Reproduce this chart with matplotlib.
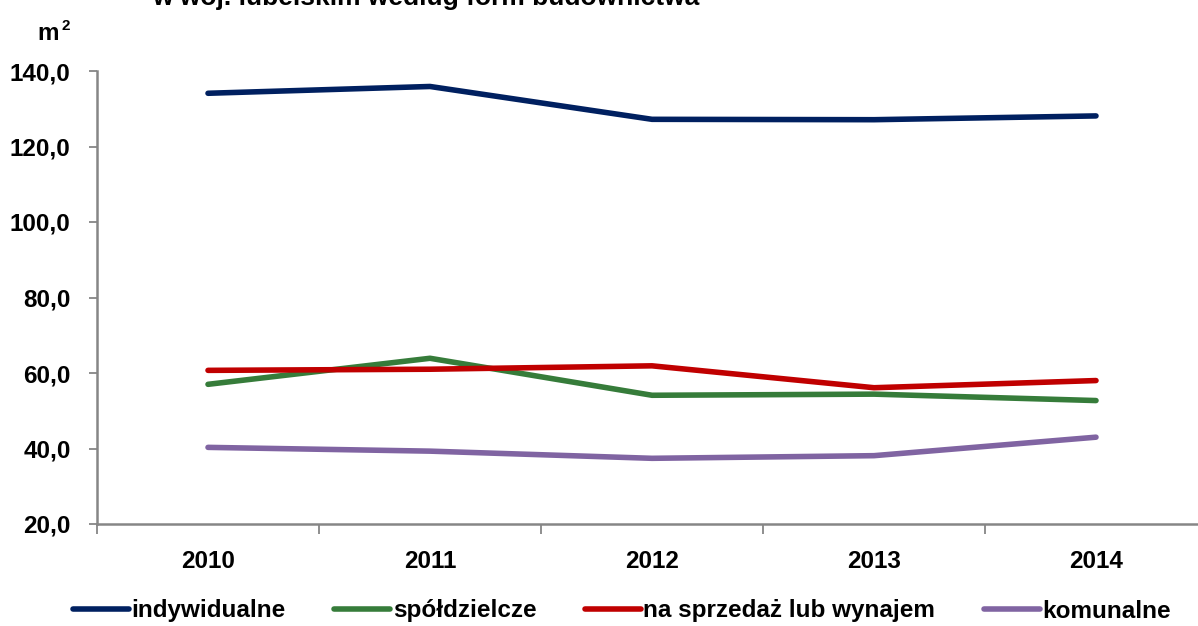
import numpy as np
import matplotlib.pyplot as plt
from matplotlib.ticker import FixedLocator, FuncFormatter

years = ["2010", "2011", "2012", "2013", "2014"]
indywidualne = [134.1, 135.9, 127.2, 127.1, 128.1]
spoldzielcze = [57.0, 63.9, 54.1, 54.4, 52.7]
na_sprzedaz = [60.7, 61.0, 61.9, 56.1, 58.0]
komunalne = [40.3, 39.3, 37.4, 38.1, 43.0]

series = [
    ("indywidualne", indywidualne, "#002060"),
    ("spółdzielcze", spoldzielcze, "#367C3A"),
    ("na sprzedaż lub wynajem", na_sprzedaz, "#C00000"),
    ("komunalne", komunalne, "#8064A2"),
]

plt.rcParams["font.family"] = ["Liberation Sans", "DejaVu Sans"]
plt.rcParams["font.weight"] = "bold"

fig = plt.figure(figsize=(11.98, 6.26), dpi=100)
ax = fig.add_axes([97 / 1198, 102 / 626, 1110 / 1198, 453 / 626])

x = np.arange(len(years))
for name, vals, col in series:
    ax.plot(x, vals, color=col, linewidth=4.0, solid_capstyle="round", label=name)

ax.set_xlim(-0.5, len(years) - 0.5)
ax.set_ylim(20, 140)
ax.set_yticks(np.arange(20, 141, 20))
ax.yaxis.set_major_formatter(FuncFormatter(lambda v, p: f"{v:.1f}".replace(".", ",")))

ax.set_xticks(x)
ax.set_xticklabels(years)
ax.xaxis.set_minor_locator(FixedLocator(np.arange(-0.5, len(years), 1.0)))
ax.tick_params(axis="x", which="major", length=0, pad=19, labelsize=17.5)
ax.tick_params(axis="x", which="minor", length=7, width=1.3, color="#868686", direction="out")
ax.tick_params(axis="y", length=6, width=1.3, color="#868686", pad=13, labelsize=17.5)

for s in ["top", "right"]:
    ax.spines[s].set_visible(False)
for s in ["left", "bottom"]:
    ax.spines[s].set_color("#868686")
    ax.spines[s].set_linewidth(1.8)

# jednostka osi Y
fig.text(37 / 1198, 1 - 40 / 626, "m", fontsize=17.5, fontweight="bold", va="baseline")
fig.text(61 / 1198, 1 - 30 / 626, "2", fontsize=11, fontweight="bold", va="baseline")

fig.text(426 / 1198, 1 - 5 / 626, "w woj. lubelskim według form budownictwa",
         fontsize=19, fontweight="bold", ha="center", va="baseline")

fig.legend(loc="center", bbox_to_anchor=(622 / 1198, 1 - 611 / 626), ncol=4,
           frameon=False, fontsize=17.5, handlelength=2.3, handletextpad=0.1,
           columnspacing=2.0, borderaxespad=0)

fig.savefig("out.png", dpi=100)
